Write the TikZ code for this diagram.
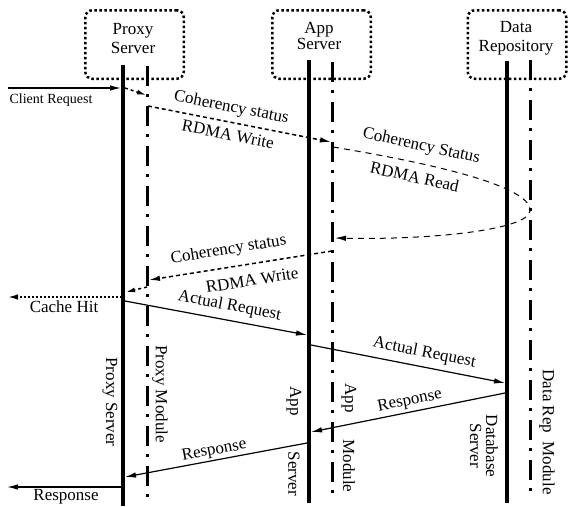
\documentclass[tikz,border=0pt]{standalone}
\usepackage{fontspec}
\setmainfont{Liberation Serif}
\usetikzlibrary{arrows.meta}
\tikzset{
  hostbox/.style={draw=black,line width=2.5pt,dash pattern=on 2.5pt off 2.5pt,rounded corners=7pt,
    minimum width=98.5pt,minimum height=68.5pt,inner sep=0pt},
  hostlbl/.style={align=center,inner sep=0pt,font=\fontsize{17}{18.5}\selectfont},
  srvline/.style={line width=4pt},
  modline/.style={line width=3pt,dash pattern=on 20pt off 8pt on 3pt off 9pt},
  msg/.style={line width=1.2pt,-{Latex[length=11pt,width=5.5pt]}},
  rdma/.style={line width=1.5pt,dash pattern=on 4pt off 3pt,-{Latex[length=11pt,width=5.5pt]}},
  rdread/.style={line width=1pt,dash pattern=on 6pt off 5pt,-{Latex[length=11pt,width=5.5pt]}},
  local/.style={line width=1.5pt,dash pattern=on 3pt off 3pt,-{Latex[length=9pt,width=5pt]}},
  hit/.style={line width=2pt,dash pattern=on 2pt off 2pt,-{Latex[length=11pt,width=5.5pt]}},
}
\tikzset{vlbl/.style={rotate=-90,inner sep=0pt}, smalllbl/.style={font=\fontsize{14}{16}\selectfont,inner sep=0pt},
  arrlbl/.style={sloped,inner sep=1pt}}

\begin{document}
\begin{tikzpicture}[x=1pt,y=-1pt,font=\fontsize{17}{19}\selectfont]
\useasboundingbox (0,0) rectangle (569,506);
\node[hostbox] (proxyBox) at (134.5,44.5) {};
\node[hostbox] (appBox) at (321.5,44.5) {};
\node[hostbox] (dataBox) at (517,44.5) {};
\node[hostlbl] (proxyLbl) at (133,38.5) {Proxy\\Server};
\node[hostlbl,font=\fontsize{17}{16}\selectfont] (appLbl) at (319,35.5) {App\\Server};
\node[hostlbl,font=\fontsize{17}{19}\selectfont] (dataLbl) at (516,38.5) {Data\\Repository};
\coordinate (psTop) at (123,65);
\coordinate (psBot) at (123,506);
\coordinate (pmTop) at (147,66);
\coordinate (pmBot) at (147,501);
\coordinate (asTop) at (309,60);
\coordinate (asBot) at (309,503);
\coordinate (amTop) at (332,62);
\coordinate (amBot) at (332,497);
\coordinate (dsTop) at (507,61);
\coordinate (dsBot) at (507,503);
\coordinate (dmTop) at (530,60);
\coordinate (dmBot) at (530,497);
\coordinate (cliIn) at (8,88);
\coordinate (ps1) at (121,88);
\coordinate (ps1b) at (125,88);
\coordinate (pm1) at (146,95);
\coordinate (pm2) at (148,106);
\coordinate (am1) at (331,142);
\coordinate (am2) at (333,147);
\coordinate (dmTurn) at (530,211);
\coordinate (am3) at (335,238);
\coordinate (am4) at (332,251);
\coordinate (pm3) at (149,280);
\coordinate (pm4) at (147,287);
\coordinate (ps2) at (126,292);
\coordinate (ps3) at (122,297);
\coordinate (cliOut1) at (7,297);
\coordinate (ps4) at (125,301);
\coordinate (as1) at (307,335);
\coordinate (as2) at (311,345);
\coordinate (ds1) at (505,383);
\coordinate (ds2) at (505,393);
\coordinate (as3) at (311,432);
\coordinate (as4) at (307,443);
\coordinate (ps5) at (125,477);
\coordinate (ps6) at (121,487);
\coordinate (cliOut2) at (7,487);
\draw[srvline] (psTop)--(psBot);
\draw[modline] (pmTop)--(pmBot);
\draw[srvline] (asTop)--(asBot);
\draw[modline] (amTop)--(amBot);
\draw[srvline] (dsTop)--(dsBot);
\draw[modline] (dmTop)--(dmBot);
\draw[msg] (cliIn)--(ps1);
\node[smalllbl] (cliLbl) at (51,100) {Client Request};
\draw[local] (ps1b)--(pm1);
\draw[rdma] (pm2)--(am1) node[arrlbl,pos=0.44,above=4.7pt] (coh1) {Coherency status}
  node[arrlbl,pos=0.45,below=4.7pt] (wr1) {RDMA Write};
\draw[rdread] (am2) .. controls (460,168) and (532,190) .. (dmTurn)
  node[arrlbl,pos=0.25,above=7.7pt] (coh2) {Coherency Status}
  node[arrlbl,pos=0.25,below=6.7pt] (rd1) {RDMA Read}
  .. controls (528,230) and (430,240) .. (am3);
\draw[rdma] (am4)--(pm3) node[arrlbl,pos=0.55,above=7.7pt] (coh3) {Coherency status}
  node[arrlbl,pos=0.45,below=8.7pt] (wr2) {RDMA Write};
\draw[local] (pm4)--(ps2);
\draw[hit] (ps3)--(cliOut1);
\node[inner sep=0pt] (hitLbl) at (64,307) {Cache Hit};
\draw[msg] (ps4)--(as1) node[arrlbl,pos=0.56,above=4.7pt] (req1) {Actual Request};
\draw[msg] (as2)--(ds1) node[arrlbl,pos=0.57,above=4.7pt] (req2) {Actual Request};
\draw[msg] (ds2)--(as3) node[arrlbl,pos=0.48,above=2pt] (resp1) {Response};
\draw[msg] (as4)--(ps5) node[arrlbl,pos=0.5,above=0.5pt] (resp2) {Response};
\draw[msg] (ps6)--(cliOut2);
\node[inner sep=0pt] (respLbl) at (66,497) {Response};
\node[vlbl] (psLbl) at (110,402) {Proxy Server};
\node[vlbl] (pmLbl) at (160,394) {Proxy Module};
\node[vlbl] (asLbl1) at (294,401) {App};
\node[vlbl] (asLbl2) at (294,474) {Server};
\node[vlbl] (amLbl1) at (349,398) {App};
\node[vlbl] (amLbl2) at (349,466) {Module};
\node[vlbl,align=center,font=\fontsize{17}{16}\selectfont] (dsLbl) at (484,446) {Database\\Server};
\node[vlbl] (dmLbl) at (547,432) {Data Rep~ Module};
\end{tikzpicture}
\end{document}
